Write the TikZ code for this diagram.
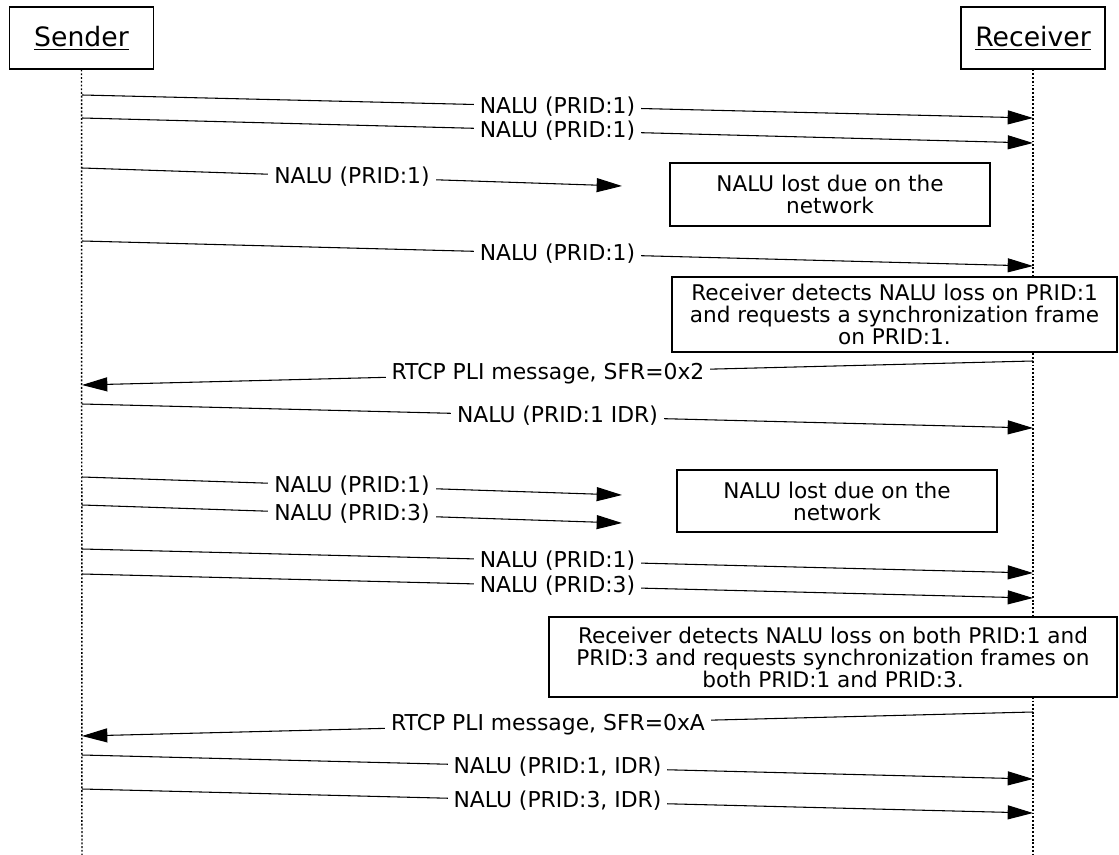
\documentclass[tikz,border=0pt]{standalone}
\usepackage{fontspec}
\setmainfont{DejaVu Sans}
\usetikzlibrary{arrows.meta}

\tikzset{
  actor/.style={draw, line width=0.9pt, minimum width=108pt, minimum height=46.5pt,
    font=\fontsize{20}{22}\selectfont},
  lifeline/.style={line width=1.1pt, dash pattern=on 1.4pt off 1.4pt},
  msg/.style={line width=0.8pt, -{Triangle[length=19pt,width=10.5pt]}},
  lbl/.style={fill=white, inner xsep=4.5pt, inner ysep=0pt, pos=0.5,
    font=\fontsize{16.4}{16.5}\selectfont},
  notebox/.style={draw, line width=0.8pt, align=center, inner sep=0pt,
    font=\fontsize{16.2}{16.5}\selectfont}
}

\begin{document}
\begin{tikzpicture}[x=0.75pt,y=-0.75pt]
                \useasboundingbox (0,0) rectangle (1119,855);
                % actors and lifelines
                \node[actor] (snd) at (81.5,38) {\underline{Sender}};
                \node[actor] (rcv) at (1033,38) {\underline{Receiver}};
                \coordinate (sndend) at (82,855);
                \coordinate (rcvend) at (1033,855);
                \draw[lifeline] (snd.south) -- (sndend);
                \draw[lifeline] (rcv.south) -- (rcvend);
                % end points of the messages
                \coordinate (s1) at (82,95);    \coordinate (r1) at (1033,118);
                \coordinate (s2) at (82,118);   \coordinate (r2) at (1033,143);
                \coordinate (s3) at (82,168);   \coordinate (l3) at (622,186);
                \coordinate (s4) at (82,241);   \coordinate (r4) at (1033,266);
                \coordinate (r5) at (1033,361); \coordinate (s5) at (82,385);
                \coordinate (s6) at (82,404);   \coordinate (r6) at (1033,428);
                \coordinate (s7) at (82,477);   \coordinate (l7) at (622,495);
                \coordinate (s8) at (82,505);   \coordinate (l8) at (622,523);
                \coordinate (s9) at (82,549);   \coordinate (r9) at (1033,573);
                \coordinate (s10) at (82,574);  \coordinate (r10) at (1033,598);
                \coordinate (r11) at (1033,712); \coordinate (s11) at (82,736);
                \coordinate (s12) at (82,755);  \coordinate (r12) at (1033,779);
                \coordinate (s13) at (82,789);  \coordinate (r13) at (1033,813);
                % messages
                \draw[msg] (s1) -- node[lbl] {NALU (PRID:1)} (r1);
                \draw[msg] (s2) -- node[lbl] {NALU (PRID:1)} (r2);
                \draw[msg] (s3) -- node[lbl] {NALU (PRID:1)} (l3);
                \draw[msg] (s4) -- node[lbl] {NALU (PRID:1)} (r4);
                \draw[msg] (r5) -- node[lbl, pos=0.51] {RTCP PLI message, SFR=0x2} (s5);
                \draw[msg] (s6) -- node[lbl] {NALU (PRID:1 IDR)} (r6);
                \draw[msg] (s7) -- node[lbl] {NALU (PRID:1)} (l7);
                \draw[msg] (s8) -- node[lbl] {NALU (PRID:3)} (l8);
                \draw[msg] (s9) -- node[lbl] {NALU (PRID:1)} (r9);
                \draw[msg] (s10) -- node[lbl] {NALU (PRID:3)} (r10);
                \draw[msg] (r11) -- node[lbl, pos=0.51] {RTCP PLI message, SFR=0xA} (s11);
                \draw[msg] (s12) -- node[lbl] {NALU (PRID:1, IDR)} (r12);
                \draw[msg] (s13) -- node[lbl] {NALU (PRID:3, IDR)} (r13);
                % notes
                \node[notebox, minimum width=240pt, minimum height=47.25pt] (lossA) at (830,194.5)
                    {NALU lost due on the\\network};
                \node[notebox, minimum width=333.75pt, minimum height=56.25pt, fill=white] (detA) at (894.5,314.5)
                    {Receiver detects NALU loss on PRID:1\\and requests a synchronization frame\\on PRID:1.};
                \node[notebox, minimum width=240pt, minimum height=46.5pt] (lossB) at (837,501)
                    {NALU lost due on the\\network};
                \node[notebox, minimum width=426pt, minimum height=60pt, fill=white] (detB) at (833,657)
                    {Receiver detects NALU loss on both PRID:1 and\\PRID:3 and requests synchronization frames on\\both PRID:1 and PRID:3.};
            \end{tikzpicture}
\end{document}
